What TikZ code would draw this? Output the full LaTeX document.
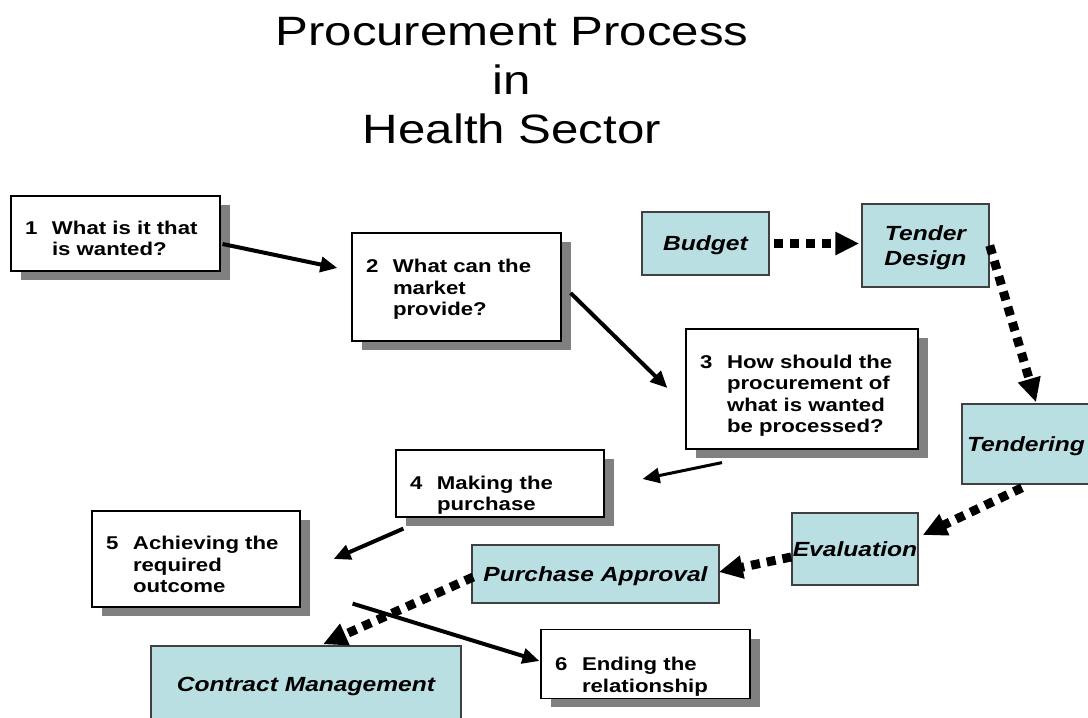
\documentclass[tikz,border=0pt]{standalone}
\usepackage{fontspec}
\setmainfont{Liberation Sans}[FakeStretch=1.2]
\usetikzlibrary{arrows.meta, shadows}
\definecolor{boxblue}{RGB}{186,223,227}
\definecolor{boxedge}{RGB}{64,64,64}
% optional argument: how far the text sits below the middle of its box
\newcommand{\numtext}[3][7]{\rule{0pt}{\dimexpr 15pt+#1pt+#1pt\relax}%
  \makebox[27pt][l]{#2}\begin{tabular}[t]{@{}l@{}}#3\end{tabular}}

\begin{document}
\begin{tikzpicture}[x=1pt,y=-1pt,
  white box/.style={draw=black,line width=1.2pt,fill=white,align=left,
    inner xsep=14pt,inner ysep=0pt,text width=181pt,
    drop shadow={shadow xshift=10pt,shadow yshift=-9pt,fill=gray,opacity=1},
    font=\fontsize{18.5}{21.5}\selectfont\bfseries},
  blue box/.style={draw=boxedge,line width=1.5pt,fill=boxblue,align=center,inner sep=0pt,
    text depth=0pt,font=\fontsize{20.5}{25}\selectfont\bfseries\itshape},
  solid arrow/.style={line width=4pt,-{Triangle[length=17pt,width=15pt]}},
  dotted arrow/.style={line width=9pt,dash pattern=on 9pt off 7pt,
    -{Triangle[length=24pt,width=22pt]}}]
  \useasboundingbox (0,0) rectangle (1088,718);
  \clip (0,0) rectangle (1088,718);

  \node[anchor=north,inner sep=0pt,align=center,font=\fontsize{41}{49}\selectfont]
    (title) at (512,17.5) {Procurement Process\\in\\Health Sector};

  % the six steps
  \node[white box,minimum height=75pt] (1) at (115.5,233.5)
    {\numtext{1}{What is it that\\is wanted?}};
  \node[white box,minimum height=108pt] (2) at (456.5,287)
    {\numtext[3]{2}{What can the\\market\\provide?}};
  \node[white box,text width=204pt,minimum height=120pt] (3) at (802,389)
    {\numtext{3}{How should the\\procurement of\\what is wanted\\be processed?}};
  \node[white box,text width=180pt,minimum height=67pt] (4) at (500,483.5)
    {\numtext[12]{4}{Making the\\purchase}};
  \node[white box,text width=180pt,minimum height=96pt] (5) at (196,559)
    {\numtext[8]{5}{Achieving the\\required\\outcome}};
  \node[white box,minimum height=66pt] (6) at (645.5,664)
    {\numtext[13]{6}{Ending the\\relationship}};

  % the tender cycle
  \node[blue box,minimum width=127pt,minimum height=63pt] (budget) at (705.5,243.5) {Budget};
  \node[blue box,minimum width=127pt,minimum height=83pt] (design) at (925.5,245.5) {Tender\\Design};
  \node[blue box,minimum width=128pt,minimum height=80pt] (tendering) at (1026,444) {Tendering};
  \node[blue box,minimum width=126pt,minimum height=72pt] (evaluation) at (855,549) {Evaluation};
  \node[blue box,minimum width=247pt,minimum height=58pt] (approval) at (595.5,574) {Purchase Approval};
  \node[blue box,minimum width=310pt,minimum height=76pt] (contract) at (306,684) {Contract Management};

  \path[dotted arrow]
    ([xshift=4pt]budget.east) edge ([xshift=-2pt]budget.east -| design.west)
    (design.east) edge ([xshift=10pt,yshift=1pt]tendering.north)
    ([xshift=-4pt,yshift=-3pt]tendering.south) edge ([xshift=4pt,yshift=14pt]evaluation.east)
    ([yshift=-8pt]evaluation.west) edge ([xshift=-1pt,yshift=2pt]approval.east)
    ([xshift=2pt,yshift=-3pt]approval.west) edge ([xshift=17pt,yshift=1pt]contract.north);

  \path[solid arrow]
    ([xshift=2pt,yshift=-10.5pt]1.east) edge ([xshift=-14pt,yshift=19pt]2.west)
    ([xshift=9pt,yshift=-6pt]2.east) edge ([xshift=-18pt,yshift=1pt]3.west)
    ([xshift=8pt,yshift=-11pt]4.south west) edge ([xshift=33pt]5.east)
    ([xshift=52pt,yshift=4pt]5.south east) edge ([xshift=-1pt,yshift=3pt]6.west);
  \path[solid arrow,line width=3pt]
    ([xshift=-80pt,yshift=-13pt]3.south) edge ([xshift=38pt,yshift=4.5pt]4.east);
\end{tikzpicture}
\end{document}
